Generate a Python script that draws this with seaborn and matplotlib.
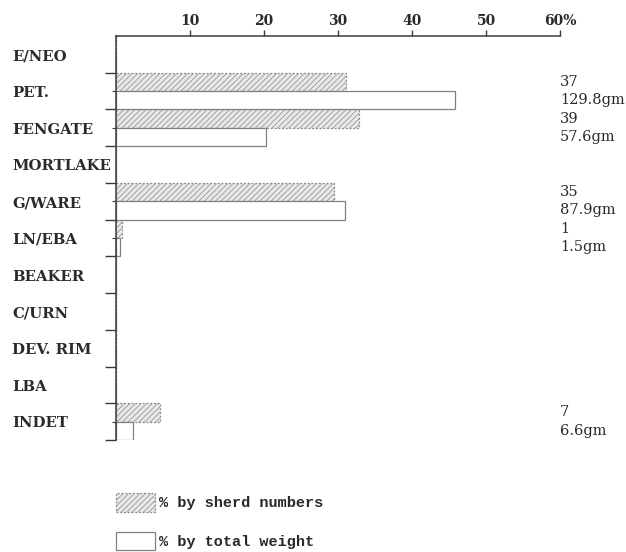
import matplotlib
matplotlib.use("Agg")
import matplotlib.pyplot as plt
from matplotlib.transforms import blended_transform_factory
from matplotlib.patches import Patch
import seaborn as sns
import pandas as pd

# Pottery fabric groups, top to bottom
categories = ["E/NEO", "PET.", "FENGATE", "MORTLAKE", "G/WARE", "LN/EBA",
              "BEAKER", "C/URN", "DEV. RIM", "LBA", "INDET"]
# Percentage of sherds by number and by total weight
pct_sherds = [0, 31.1, 32.8, 0, 29.4, 0.8, 0, 0, 0, 0, 5.9]
pct_weight = [0, 45.8, 20.3, 0, 31.0, 0.5, 0, 0, 0, 0, 2.3]
# Raw counts and weights written beside the bars
sherd_counts = ["", "37", "39", "", "35", "1", "", "", "", "", "7"]
sherd_weights = ["", "129.8gm", "57.6gm", "", "87.9gm", "1.5gm", "", "", "", "", "6.6gm"]
series_names = ["% by sherd numbers", "% by total weight"]
x_ticks = [10, 20, 30, 40, 50, 60]
x_tick_labels = ["10", "20", "30", "40", "50", "60%"]

df = pd.DataFrame({
    "group": categories * 2,
    "pct": pct_sherds + pct_weight,
    "series": [series_names[0]] * len(categories) + [series_names[1]] * len(categories),
})

sns.set_style("white")
plt.rcParams["hatch.linewidth"] = 0.5
serif = ["DejaVu Serif"]
ink = "#3a3a3a"
txt = "#2a2a2a"

fig = plt.figure(figsize=(6.26, 5.52), dpi=100)
W, H = 626, 552
ax = fig.add_axes([116 / W, 1 - 440 / H, 444 / W, 404 / H])

sns.barplot(data=df, y="group", x="pct", hue="series", order=categories,
            hue_order=series_names, orient="h", width=1.0, dodge=True,
            palette={series_names[0]: "#e8e8e8", series_names[1]: "white"},
            edgecolor="#6a6a6a", linewidth=0.9, legend=False, ax=ax)

# Shaded series: fine diagonal hatching with dotted outline
for bar in ax.containers[0]:
    bar.set_hatch("//////")
    bar.set_linestyle((0, (1.5, 1.5)))
    bar.set_edgecolor("#8a8a8a")
for bar in ax.containers[1]:
    bar.set_edgecolor("#808080")

ax.set_xlim(0, 60)
ax.set_ylim(len(categories) - 0.5, -0.5)
ax.set_xlabel("")
ax.set_ylabel("")

for side in ["right", "bottom"]:
    ax.spines[side].set_visible(False)
for side in ["top", "left"]:
    ax.spines[side].set_visible(True)
    ax.spines[side].set_color(ink)
    ax.spines[side].set_linewidth(1.1)

# Percentage scale along the top
ax.xaxis.tick_top()
ax.set_xticks(x_ticks)
ax.set_xticklabels(x_tick_labels, fontfamily=serif, fontweight="bold",
                   fontsize=10, color=txt)
ax.tick_params(axis="x", which="major", direction="out", length=4,
               width=1.0, color=ink, pad=2, top=True, bottom=False)

# Row dividers as ticks on the left axis
ax.set_yticks([i + 0.5 for i in range(len(categories))])
ax.set_yticklabels([])
ax.tick_params(axis="y", which="major", direction="out", length=8,
               width=1.0, color=ink, left=True)
ax.set_yticks([i for i, v in enumerate(pct_sherds) if v > 0], minor=True)
ax.tick_params(axis="y", which="minor", direction="out", length=3,
               width=0.8, color=ink, left=True)

# Category names, left aligned at the figure edge
trans = blended_transform_factory(fig.transFigure, ax.transData)
for i, name in enumerate(categories):
    ax.text(12 / W, i + 0.05, name, transform=trans, ha="left", va="center",
            fontfamily=serif, fontweight="bold", fontsize=10.7, color=txt)

# Counts and weights beside each bar pair
for i, (c, w) in enumerate(zip(sherd_counts, sherd_weights)):
    if c:
        ax.text(60, i - 0.25, c, ha="left", va="center", fontfamily=serif,
                fontsize=10.5, color=txt, clip_on=False)
        ax.text(60, i + 0.25, w, ha="left", va="center", fontfamily=serif,
                fontsize=10.5, color=txt, clip_on=False)

handles = [
    Patch(facecolor="#e8e8e8", edgecolor="#8a8a8a", hatch="//////",
          linestyle=(0, (1.5, 1.5)), linewidth=0.9),
    Patch(facecolor="white", edgecolor="#808080", linewidth=0.9),
]
fs = 11
px = fs * 100 / 72
fig.legend(handles, series_names, loc="upper left",
           bbox_to_anchor=(116 / W, 1 - 493 / H), frameon=False,
           borderpad=0, borderaxespad=0, handlelength=39 / px,
           handleheight=1.5, handletextpad=0.25,
           labelspacing=1.3,
           prop={"family": "Liberation Mono", "weight": "bold", "size": fs})
for t in fig.legends[0].get_texts():
    t.set_color(txt)

fig.savefig("out.png", dpi=100, facecolor="white")
